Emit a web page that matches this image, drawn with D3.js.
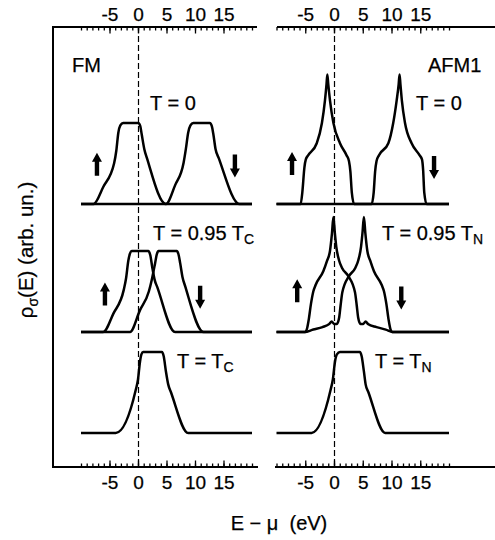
<!DOCTYPE html>
<html>
<head>
<meta charset="utf-8">
<script src="https://cdn.jsdelivr.net/npm/d3@7"></script>
<style>
  body { margin: 0; background: #fff; }
  text { font-family: "Liberation Sans", Arial, Helvetica, sans-serif; fill: #000; stroke: #000; stroke-width: 0.25px; }
</style>
</head>
<body>
<svg id="chart" width="495" height="540"></svg>
<script>
// energy axis ticks (eV)
var tickAll = d3.range(-10, 21);
var tickLabels = [-5, 0, 5, 10, 15];

// densities of states [E - mu (eV), rho (arb. un.)]
// FM, T = 0
var fmT0Up = [[-10,0],[-7.8,0],[-6.1,0.21],[-4.2,0.5],[-3.8,0.66],[-3.45,0.88],[-3.1,0.97],[-2.6,1],[0.05,1],[0.4,0.96],[0.65,0.86],[1.1,0.68],[1.6,0.56],[4.9,0],[20,0]];
var fmT0Dn = [[-10,0],[4.9,0],[6.5,0.23],[8.0,0.51],[8.4,0.68],[8.8,0.88],[9.2,0.97],[9.7,1],[12.6,1],[12.95,0.96],[13.2,0.87],[13.6,0.68],[14.2,0.56],[17.8,0],[20,0]];
// FM, T = 0.95 Tc
var fm095Up = [[-10,0],[-6.1,0],[-4.3,0.23],[-2.5,0.52],[-2.1,0.66],[-1.7,0.88],[-1.4,0.97],[-1.1,1],[1.8,1],[2.15,0.95],[2.5,0.8],[2.9,0.65],[3.4,0.55],[6.5,0],[20,0]];
var fm095Dn = [[-10,0],[-1.4,0],[0.35,0.27],[1.9,0.5],[2.4,0.64],[3.0,0.85],[3.3,0.96],[3.6,1],[6.8,1],[7.1,0.96],[7.4,0.85],[7.8,0.68],[8.3,0.56],[11.5,0],[20,0]];
// FM, T = Tc (both spins)
var fmTc = [[-10,0],[-3.9,0],[-0.4,0.53],[0.0,0.66],[0.35,0.88],[0.6,0.97],[0.9,1],[4.2,1],[4.5,0.95],[4.9,0.76],[5.3,0.6],[5.8,0.5],[8.8,0],[20,0]];

// AFM1, T = 0
var afmT0Up = [[-10,0],[-5.8,0],[-5.5,0.15],[-5.15,0.45],[-4.9,0.55],[-4.5,0.6],[-3.0,0.75],[-2.1,1.0],[-1.57,1.28],[-1.3,1.48],[-1.16,1.6],[-1.0,1.48],[-0.7,1.28],[-0.1,1.0],[1.04,0.75],[2.2,0.6],[2.6,0.53],[2.85,0.4],[3.1,0.14],[3.5,0],[20,0]];
var afmT0Dn = [[-10,0],[6.55,0],[6.9,0.14],[7.15,0.4],[7.4,0.53],[7.8,0.6],[9.45,0.75],[10.3,1.0],[10.9,1.28],[11.25,1.48],[11.4,1.6],[11.55,1.48],[11.8,1.28],[12.35,1.0],[13.5,0.75],[14.9,0.6],[15.3,0.55],[15.5,0.42],[15.7,0.14],[16.1,0],[20,0]];
// AFM1, T = 0.95 TN
var afm095Up = [[-10,0],[-5.0,0],[-4.7,0.04],[-4.4,0.15],[-4.0,0.35],[-3.6,0.5],[-3.2,0.58],[-1.86,0.75],[-1.2,0.88],[-0.7,1.0],[-0.35,1.22],[-0.1,1.42],[0.15,1.22],[0.4,1.05],[0.9,0.88],[1.4,0.79],[2.5,0.69],[3.65,0.49],[3.95,0.33],[4.2,0.18],[4.6,0.1],[5.1,0.1],[5.5,0.13],[5.9,0.1],[7.4,0.06],[9.0,0.03],[10.2,0],[20,0]];
var afm095Dn = [[-10,0],[-5.1,0],[-3.6,0.03],[-2.0,0.06],[-0.8,0.1],[-0.4,0.13],[0.0,0.1],[0.5,0.1],[0.9,0.18],[1.15,0.33],[1.45,0.49],[2.6,0.69],[3.7,0.79],[4.2,0.88],[4.7,1.05],[4.95,1.22],[5.2,1.42],[5.45,1.22],[5.8,1.0],[6.3,0.88],[6.95,0.75],[8.3,0.58],[8.7,0.5],[9.1,0.35],[9.5,0.15],[9.8,0.04],[10.1,0],[20,0]];
// AFM1, T = TN (both spins)
var afmTn = [[-10,0],[-3.9,0],[-0.6,0.53],[-0.2,0.66],[0.17,0.88],[0.5,0.97],[1.04,1],[4.5,1],[4.8,0.95],[5.2,0.76],[5.5,0.6],[6.0,0.5],[8.9,0],[20,0]];

// spin arrows [row, E, rho, direction]
var fmArrows = [[0,-7.2,0.49,"up"],[0,17.0,0.47,"down"],[1,-5.8,0.47,"up"],[1,10.9,0.43,"down"]];
var afmArrows = [[0,-7.3,0.5,"up"],[0,17.4,0.45,"down"],[1,-6.4,0.51,"up"],[1,11.7,0.42,"down"]];

var rowBase = [204, 332, 433];
var unitPx = 81;

var svg = d3.select("#chart");

var panels = [
  { name: "FM", nameX: 72, range: [81, 252], lineTop: [53, 257], lineBot: [53, 258],
    rows: [[fmT0Up, fmT0Dn], [fm095Up, fm095Dn], [fmTc]], arrows: fmArrows,
    temps: [{x: 150, y: 110, t: "T = 0"}, {x: 153, y: 240, t: "T = 0.95 T", s: "C"}, {x: 177, y: 368, t: "T = T", s: "C"}] },
  { name: "AFM1", nameX: 428, range: [276.5, 449], lineTop: [277, 495], lineBot: [275, 495],
    rows: [[afmT0Up, afmT0Dn], [afm095Up, afm095Dn], [afmTn]], arrows: afmArrows,
    temps: [{x: 416, y: 110, t: "T = 0"}, {x: 382, y: 240, t: "T = 0.95 T", s: "N"}, {x: 375, y: 368, t: "T = T", s: "N"}] }
];

function axis(g, x, y0, top, l) {
  g.append("line").attr("x1", l[0]).attr("x2", l[1]).attr("y1", y0).attr("y2", y0)
    .attr("stroke", "#000").attr("stroke-width", 2);
  var mk = top ? d3.axisTop : d3.axisBottom;
  var gm = g.append("g").attr("transform", "translate(0," + y0 + ")")
    .call(mk(x).tickValues(tickAll).tickSize(-3.5).tickFormat(""));
  var gM = g.append("g").attr("transform", "translate(0," + y0 + ")")
    .call(mk(x).tickValues(tickLabels).tickSize(-6.5).tickPadding(top ? 6 : 9).tickFormat(function(d) { return String(d); }));
  [gm, gM].forEach(function(a) {
    a.select(".domain").remove();
    a.selectAll("line").attr("stroke-width", 1.3);
  });
  gM.selectAll("text").style("font-size", "19px").style("font-family", "'Liberation Sans', Arial, sans-serif");
}

panels.forEach(function(p) {
  var x = d3.scaleLinear().domain([-10, 20]).range(p.range);
  var g = svg.append("g");

  axis(g, x, 27, true, p.lineTop);
  axis(g, x, 467, false, p.lineBot);

  // Fermi level
  var x0 = Math.round(x(0)) + 0.5;
  g.append("line").attr("x1", x0).attr("x2", x0).attr("y1", 27).attr("y2", 467)
    .attr("stroke", "#000").attr("stroke-width", 1.2).attr("stroke-dasharray", "6,3");

  p.rows.forEach(function(curves, r) {
    var y = d3.scaleLinear().domain([0, 1]).range([rowBase[r], rowBase[r] - unitPx]);
    var line = d3.line().x(function(d) { return x(d[0]); }).y(function(d) { return y(d[1]); })
      .curve(d3.curveMonotoneX);
    curves.forEach(function(c) {
      g.append("path").attr("d", line(c)).attr("fill", "none")
        .attr("stroke", "#000").attr("stroke-width", 2.5).attr("stroke-linejoin", "round");
    });
  });

  // spin arrows
  p.arrows.forEach(function(a) {
    var y = d3.scaleLinear().domain([0, 1]).range([rowBase[a[0]], rowBase[a[0]] - unitPx]);
    var cx = x(a[1]), cy = y(a[2]), s = a[3] == "up" ? -1 : 1;
    var L = 23, hh = 9, hw = 5, sw = 2.2;
    var tip = cy + s * L / 2, hb = tip - s * hh, tail = cy - s * L / 2;
    var d = "M" + cx + "," + tip + "L" + (cx + hw) + "," + hb + "L" + (cx + sw) + "," + hb +
      "L" + (cx + sw) + "," + tail + "L" + (cx - sw) + "," + tail + "L" + (cx - sw) + "," + hb +
      "L" + (cx - hw) + "," + hb + "Z";
    g.append("path").attr("d", d).attr("fill", "#000");
  });

  g.append("text").attr("x", p.nameX).attr("y", 72).style("font-size", "20px").text(p.name);

  p.temps.forEach(function(t) {
    var tx = g.append("text").attr("x", t.x).attr("y", t.y).style("font-size", "20px").text(t.t);
    if (t.s) tx.append("tspan").attr("dy", 4).style("font-size", "14px").text(t.s);
  });
});

// left frame
svg.append("line").attr("x1", 53).attr("x2", 53).attr("y1", 26).attr("y2", 468)
  .attr("stroke", "#000").attr("stroke-width", 2);

// axis titles
svg.append("text").attr("x", 279).attr("y", 530).attr("text-anchor", "middle")
  .style("font-size", "20px").attr("xml:space", "preserve").text("E \u2212 \u03bc  (eV)");

var yl = svg.append("text").attr("transform", "translate(33,250) rotate(-90)")
  .attr("text-anchor", "middle").style("font-size", "20.5px");
yl.append("tspan").text("\u03c1");
yl.append("tspan").attr("dy", 5).style("font-size", "14px").text("\u03c3");
yl.append("tspan").attr("dy", -5).text("(E) (arb. un.)");
</script>
</body>
</html>
